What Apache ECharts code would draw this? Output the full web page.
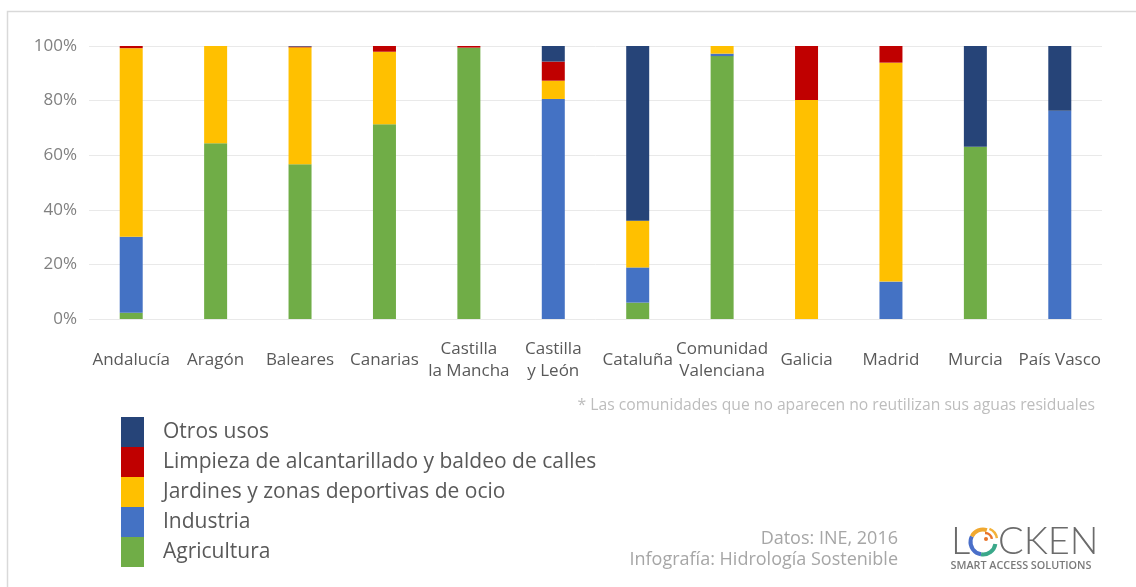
<!DOCTYPE html>
<html>
<head>
<meta charset="utf-8">
<script src="https://cdn.jsdelivr.net/npm/echarts@6/dist/echarts.min.js"></script>
<style>
  html, body { margin: 0; padding: 0; background: #ffffff; }
  #chart { width: 1136px; height: 587px; }
</style>
</head>
<body>
<div id="chart"></div>
<script>
// Comunidades autónomas que reutilizan aguas residuales
const categories = [
  'Andalucía', 'Aragón', 'Baleares', 'Canarias', 'Castilla\nla Mancha', 'Castilla\ny León',
  'Cataluña', 'Comunidad\nValenciana', 'Galicia', 'Madrid', 'Murcia', 'País Vasco'
];

// Porcentaje de agua reutilizada por uso (cada columna suma 100 %)
const agricultura = [2.3, 64.4, 56.7, 71.3, 99.4, 0, 6.0, 96.3, 0, 0, 63.1, 0];
const industria   = [27.8, 0, 0, 0, 0, 80.6, 12.9, 0.9, 0, 13.7, 0, 76.3];
const jardines    = [69.1, 35.6, 42.8, 26.6, 0, 6.7, 17.1, 2.8, 80.2, 80.2, 0, 0];
const limpieza    = [0.8, 0, 0.3, 2.1, 0.6, 7.0, 0, 0, 19.8, 6.1, 0, 0];
const otros       = [0, 0, 0.2, 0, 0, 5.7, 64.0, 0, 0, 0, 36.9, 23.7];

const yTicks = [0, 20, 40, 60, 80, 100];

const seriesDefs = [
  { name: 'Agricultura', data: agricultura, color: '#70AD47' },
  { name: 'Industria', data: industria, color: '#4472C4' },
  { name: 'Jardines y zonas deportivas de ocio', data: jardines, color: '#FFC000' },
  { name: 'Limpieza de alcantarillado y baldeo de calles', data: limpieza, color: '#C00000' },
  { name: 'Otros usos', data: otros, color: '#264478' }
];

const FONT = '"Open Sans", Lato, sans-serif';
const LOGO_FONT = 'Lato, "Open Sans", sans-serif';

const chart = echarts.init(document.getElementById('chart'), null, { renderer: 'canvas' });

chart.setOption({
  backgroundColor: '#ffffff',
  animation: false,
  textStyle: { fontFamily: FONT },
  grid: { left: 89, right: 34, top: 46, bottom: 268, containLabel: false },
  xAxis: {
    type: 'category',
    data: categories,
    axisLine: { show: false },
    axisTick: { show: false },
    axisLabel: {
      interval: 0,
      fontFamily: FONT,
      fontSize: 17,
      color: '#595959',
      lineHeight: 22,
      verticalAlign: 'middle',
      margin: 41
    }
  },
  yAxis: {
    type: 'value',
    min: yTicks[0],
    max: yTicks[yTicks.length - 1],
    interval: yTicks[1] - yTicks[0],
    axisLine: { show: false },
    axisTick: { show: false },
    splitLine: { lineStyle: { color: '#e9e9e9', width: 1 } },
    axisLabel: {
      fontFamily: FONT,
      fontSize: 17,
      color: '#808080',
      margin: 12,
      formatter: '{value}%'
    }
  },
  legend: {
    orient: 'vertical',
    left: 121,
    top: 417,
    padding: 0,
    icon: 'rect',
    itemWidth: 23,
    itemHeight: 30,
    itemGap: 0,
    selectedMode: false,
    data: ['Otros usos', 'Limpieza de alcantarillado y baldeo de calles',
           'Jardines y zonas deportivas de ocio', 'Industria', 'Agricultura'],
    textStyle: {
      fontFamily: FONT,
      fontSize: 21,
      color: '#595959',
      padding: [0, 0, 0, 14]
    }
  },
  series: seriesDefs.map(s => ({
    name: s.name,
    type: 'bar',
    stack: 'usos',
    barWidth: 23,
    data: s.data,
    itemStyle: { color: s.color },
    emphasis: { disabled: true }
  })),
  graphic: [
    // marco exterior
    {
      type: 'rect', silent: true, z: -10,
      shape: { x: 7.5, y: 11.5, width: 1140, height: 590 },
      style: { fill: 'none', stroke: '#d9d9d9', lineWidth: 1.5 }
    },
    // nota al pie
    {
      type: 'text', x: 1095, y: 406,
      style: {
        text: '* Las comunidades que no aparecen no reutilizan sus aguas residuales',
        align: 'right', verticalAlign: 'middle',
        font: '15.7px ' + FONT, fill: '#bdbdbd'
      }
    },
    // fuente de los datos
    {
      type: 'text', x: 898, y: 539,
      style: {
        text: 'Datos: INE, 2016', align: 'right', verticalAlign: 'middle',
        font: '18px ' + FONT, fill: '#a6a6a6'
      }
    },
    {
      type: 'text', x: 898, y: 560,
      style: {
        text: 'Infografía: Hidrología Sostenible', align: 'right', verticalAlign: 'middle',
        font: '18px ' + FONT, fill: '#a6a6a6'
      }
    },
    // logotipo
    {
      type: 'group', x: 949, y: 520,
      children: [
        { type: 'text', x: 2, y: 3, style: { text: 'L', font: '300 38px ' + LOGO_FONT, fill: '#6b6b6b' } },
        { type: 'arc', shape: { cx: 34, cy: 22, r: 12.5, startAngle: Math.PI * 0.55, endAngle: Math.PI * 1.15 },
          style: { stroke: '#4a6fc9', lineWidth: 4, fill: 'none' } },
        { type: 'arc', shape: { cx: 34, cy: 22, r: 12.5, startAngle: Math.PI * 0.05, endAngle: Math.PI * 0.55 },
          style: { stroke: '#3aa88a', lineWidth: 4, fill: 'none' } },
        { type: 'arc', shape: { cx: 34, cy: 22, r: 12.5, startAngle: Math.PI * 1.15, endAngle: Math.PI * 1.6 },
          style: { stroke: '#f0a830', lineWidth: 4, fill: 'none' } },
        { type: 'arc', shape: { cx: 36, cy: 20, r: 7, startAngle: Math.PI * 1.5, endAngle: Math.PI * 1.95 },
          style: { stroke: '#e8742a', lineWidth: 2.5, fill: 'none' } },
        { type: 'arc', shape: { cx: 36, cy: 20, r: 12, startAngle: Math.PI * 1.62, endAngle: Math.PI * 1.95 },
          style: { stroke: '#f3b23a', lineWidth: 2.5, fill: 'none' } },
        { type: 'circle', shape: { cx: 37, cy: 19, r: 2 }, style: { fill: '#e8742a' } },
        { type: 'text', x: 49, y: 3, style: { text: 'CKEN', font: '300 38px ' + LOGO_FONT, fill: '#6b6b6b' } },
        { type: 'text', x: 72, y: 46, style: { text: 'SMART ACCESS SOLUTIONS', align: 'center', verticalAlign: 'middle',
          font: '600 10.8px ' + FONT, fill: '#7a7a7a' } }
      ]
    }
  ]
});
</script>
</body>
</html>
